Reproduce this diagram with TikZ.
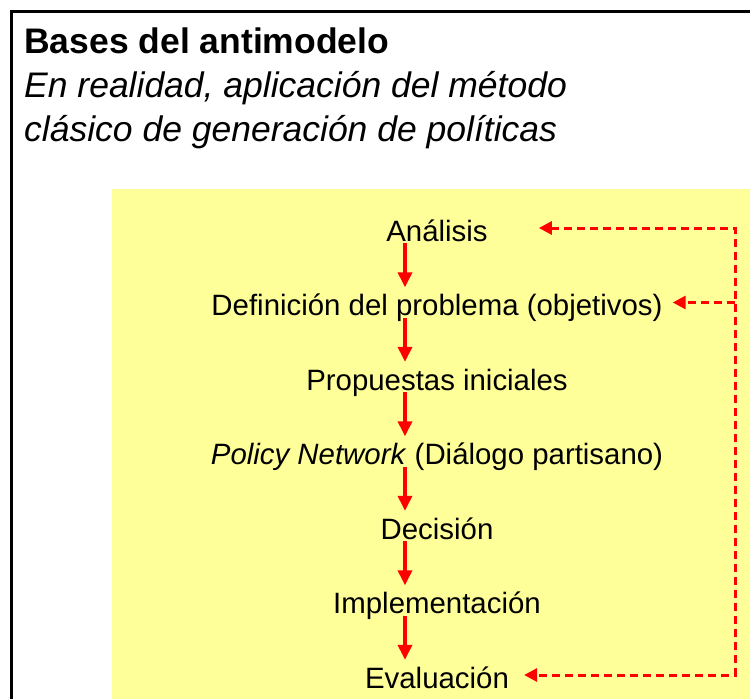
\documentclass[tikz,border=0pt]{standalone}
\usepackage{fontspec}
\setmainfont{Liberation Sans}
\usepackage{tikz}
\usetikzlibrary{positioning, arrows.meta}

\definecolor{padyellow}{HTML}{FFFF99}

\begin{document}
\begin{tikzpicture}[x=1pt, y=-1pt,
    stage/.style={inner sep=0pt, text height=28pt, text depth=2pt, anchor=base,
        font=\fontsize{29.4}{34}\selectfont},
    flow/.style={-{Triangle[length=15pt, width=14pt]}, line width=3.5pt, red},
    fbk/.style={line width=3pt, red, dash pattern=on 8pt off 5pt}]
    \useasboundingbox (0,0) rectangle (750,699);

    % Frame and yellow pad
    \draw[line width=3pt] (11,702) -- (11,11) -- (752,11);
    \fill[padyellow] (112,189) rectangle (750,699);

    % Heading
    \node[anchor=base west, inner sep=0pt, font=\fontsize{35.5}{42}\selectfont\bfseries] (title) at (24,53) {Bases del antimodelo};
    \node[anchor=base west, inner sep=0pt, font=\fontsize{35.5}{44}\selectfont\itshape] (sub1) at (24,97) {En realidad, aplicación del método};
    \node[anchor=base west, inner sep=0pt, font=\fontsize{35.5}{44}\selectfont\itshape] (sub2) at (24,141) {clásico de generación de políticas};

    % Stages
    \node[stage] (ana) at (437,241) {Análisis};
    \node[stage] (def) at (437,315.5) {Definición del problema (objetivos)};
    \node[stage] (pro) at (437,390) {Propuestas iniciales};
    \node[stage] (pol) at (437,464.5) {\textit{Policy Network} (Diálogo partisano)};
    \node[stage] (dec) at (437,539) {Decisión};
    \node[stage] (imp) at (437,613.5) {Implementación};
    \node[stage] (eva) at (437,688) {Evaluación};

    \coordinate (col) at (405,0);
    \coordinate (rail) at (735,0);

    \draw[flow] (ana.south -| col) -- (def.north -| col);
    \draw[flow] (def.south -| col) -- (pro.north -| col);
    \draw[flow] (pro.south -| col) -- (pol.north -| col);
    \draw[flow] (pol.south -| col) -- (dec.north -| col);
    \draw[flow] (dec.south -| col) -- (imp.north -| col);
    \draw[flow] (imp.south -| col) -- (eva.north -| col);

    % Feedback
    \draw[fbk, {Triangle[length=13pt, width=13pt]}-{Triangle[length=13pt, width=13pt]},
        shorten <=51pt, shorten >=15pt]
        (ana.east) -- (ana.east -| rail) -- (eva.east -| rail) -- (eva.east);
    \draw[fbk, -{Triangle[length=13pt, width=13pt]}, shorten >=10pt]
        (def.east -| rail) -- (def.east);
\end{tikzpicture}
\end{document}
